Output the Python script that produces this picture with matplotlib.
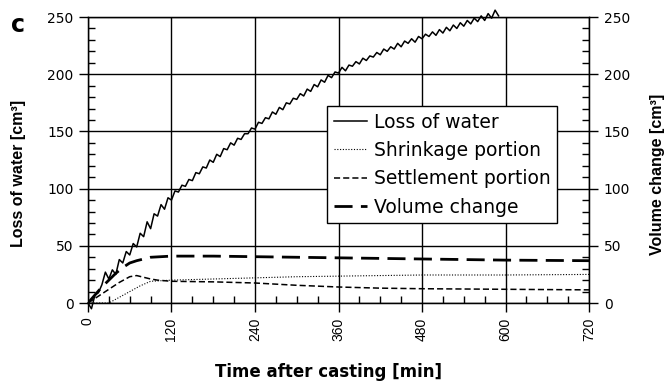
import matplotlib.pyplot as plt
from matplotlib.ticker import MultipleLocator

plt.rcParams['font.family'] = ['DejaVu Sans']
ROT_FONT = ['Liberation Sans', 'DejaVu Sans']

# Loss of water, read every 5 min (0 - 590 min)
t_loss = list(range(0, 595, 5))
loss = [0, -5, 7, 9, 16, 27, 21, 29, 25, 38,
        35, 45, 42, 52, 49, 61, 58, 71, 65, 78,
        76, 86, 82, 92, 90, 98, 97, 103, 102, 108,
        107, 114, 113, 119, 118, 125, 123, 130, 128, 135,
        134, 140, 138, 144, 143, 148, 148, 153, 152, 158,
        157, 162, 161, 167, 165, 171, 169, 175, 174, 179,
        178, 183, 181, 187, 185, 191, 189, 195, 193, 199,
        197, 202, 201, 206, 203, 208, 207, 211, 209, 214,
        212, 216, 215, 219, 217, 222, 220, 224, 222, 227,
        224, 229, 227, 231, 228, 233, 231, 235, 233, 237,
        234, 239, 236, 241, 238, 243, 240, 245, 242, 247,
        244, 249, 246, 251, 247, 253, 249, 256, 251]

# shrinkage portion
t_shr = [0, 30, 45, 60, 75, 90, 120, 180, 240, 300, 360, 420, 480, 600, 720]
shr = [0, 0, 5, 10, 15, 19, 20, 21, 22, 23, 23.5, 24, 24.5, 24.5, 25]

# settlement portion
t_set = [0, 15, 30, 45, 60, 70, 80, 90, 100, 120, 180, 240, 300, 360, 420, 480, 600, 720]
sett = [0, 6, 12, 18, 23, 24, 22.5, 21, 20, 19, 18.5, 17.5, 15.5, 14, 13, 12.5, 12, 11.5]

# volume change
t_vol = [0, 10, 20, 30, 40, 50, 60, 70, 80, 90, 120, 180, 240, 360, 480, 600, 720]
vol = [0, 7, 14, 20, 26, 31, 35, 37, 38.5, 40, 41, 41, 40.5, 39.5, 38.5, 37.5, 37]

fig = plt.figure(figsize=(6.69, 3.87), dpi=100)
ax = fig.add_axes([0.1315, 0.217, 0.749, 0.739])

ax.plot(t_loss, loss, color='black', lw=1.1, label='Loss of water', clip_on=False)
ax.plot(t_shr, shr, color='black', lw=0.8, ls=(0, (1, 1.5)), label='Shrinkage portion')
ax.plot(t_set, sett, color='black', lw=1.1, ls=(0, (4, 2)), label='Settlement portion')
ax.plot(t_vol, vol, color='black', lw=2.0, ls=(0, (6.5, 3)), label='Volume change')

ax.set_xlim(0, 720)
ax.set_ylim(0, 250)
ax.xaxis.set_major_locator(MultipleLocator(120))
ax.xaxis.set_minor_locator(MultipleLocator(30))
ax.yaxis.set_major_locator(MultipleLocator(50))
ax.yaxis.set_minor_locator(MultipleLocator(10))
ax.grid(True, which='major', color='black', lw=1.0)
ax.tick_params(which='major', direction='out', length=6.5, width=1, labelsize=10, pad=4)
ax.tick_params(which='minor', direction='in', length=5, width=1)
ax.tick_params(axis='x', labelrotation=90)
for lab in ax.get_xticklabels():
    lab.set_family(ROT_FONT)
for s in ax.spines.values():
    s.set_linewidth(1.0)

ax2 = ax.twinx()
ax2.set_ylim(0, 250)
ax2.yaxis.set_major_locator(MultipleLocator(50))
ax2.yaxis.set_minor_locator(MultipleLocator(10))
ax2.tick_params(which='major', direction='out', length=6.5, width=1, labelsize=10, pad=4)
ax2.tick_params(which='minor', direction='in', length=5, width=1)

fig.text(0.491, 0.039, 'Time after casting [min]', fontsize=12, fontweight='bold',
         ha='center', va='center')
fig.text(0.027, 0.552, 'Loss of water [cm³]', fontsize=11.5, fontweight='bold',
         family=ROT_FONT, rotation=90, ha='center', va='center')
fig.text(0.983, 0.55, 'Volume change [cm³]', fontsize=11.5, fontweight='bold',
         family=ROT_FONT, rotation=90, ha='center', va='center')

leg = ax.legend(loc='upper left', bbox_to_anchor=(0.477, 0.689), fontsize=13.5,
                frameon=True, fancybox=False, edgecolor='black', framealpha=1,
                handlelength=1.8, handletextpad=0.35, borderpad=0.35, labelspacing=0.5,
                borderaxespad=0)
leg.get_frame().set_linewidth(1.0)

fig.text(0.027, 0.935, 'c', fontsize=17, fontweight='bold', ha='center', va='center')

plt.savefig('out.png', dpi=100)
